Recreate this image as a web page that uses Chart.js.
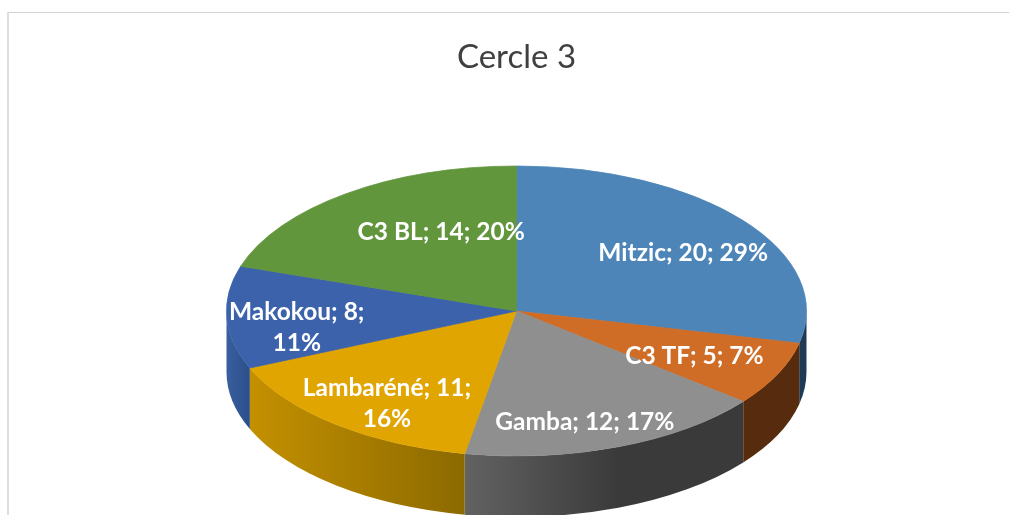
<!DOCTYPE html>
<html>
<head>
<meta charset="utf-8">
<title>Cercle 3</title>
<script src="https://cdn.jsdelivr.net/npm/chart.js@4"></script>
<style>
    html, body { margin: 0; padding: 0; background: #fff; overflow: hidden; }
    #wrap { position: relative; width: 1009px; height: 515px; overflow: hidden; }
    #frame {
        position: absolute; left: 7px; top: 12px; width: 1100px; height: 600px;
        border-left: 2px solid #dedede; border-top: 1px solid #d2d2d2;
    }
    #chart { position: absolute; left: 0; top: 0; }
</style>
</head>
<body>
<div id="wrap">
    <div id="frame"></div>
    <canvas id="chart" width="1009" height="515"></canvas>
</div>
<script>
// Data
const categories = ['Mitzic', 'C3 TF', 'Gamba', 'Lambaréné', 'Makokou', 'C3 BL'];
const values = [20, 5, 12, 11, 8, 14];

// Slice colours: top face, then the side wall (left and right end of its gradient)
const topColors = ['#4e85b9', '#cf6c26', '#8f8f8f', '#e0a500', '#3b62ab', '#62963c'];
const wallLeft = ['#1f3a55', '#562b0e', '#626262', '#c49000', '#3a5f9f', '#3b5a24'];
const wallRight = ['#1f3a55', '#562b0e', '#3a3a3a', '#8c6a00', '#2b4f8a', '#3b5a24'];
const wallStop = [1, 1, 0.55, 1, 1, 1];

// Tilt of the pie and thickness of the wall
const tilt = 0.5;
const depth = 61;

// Label placement: nudge from 70% of the radius, and where the line wraps
const labelNudge = [[8, 5], [-5, 1], [-3, 16], [-3, 13], [-17, 12], [44, 3]];
const labelWrapped = [false, false, false, true, true, false];

const total = values.reduce((a, b) => a + b, 0);

function labelLines(i) {
    const head = `${categories[i]}; ${values[i]};`;
    const pct = `${Math.round(values[i] / total * 100)}%`;
    return labelWrapped[i] ? [head, pct] : [`${head} ${pct}`];
}

/**
 * Squashes the pie into an ellipse and draws the wall under it
 */
const pie3d = {
    id: 'pie3d',
    beforeDatasetsDraw(chart) {
        const ctx = chart.ctx;
        const arcs = chart.getDatasetMeta(0).data;

        arcs.forEach((arc, i) => {
            const start = Math.max(arc.startAngle, 0);
            const end = Math.min(arc.endAngle, Math.PI);
            if (end <= start) return;

            const r = arc.outerRadius;
            const ry = r * tilt;
            const x0 = arc.x + r * Math.cos(end);
            const x1 = arc.x + r * Math.cos(start);
            const gradient = ctx.createLinearGradient(x0, 0, x1, 0);
            gradient.addColorStop(0, wallLeft[i]);
            gradient.addColorStop(wallStop[i], wallRight[i]);
            gradient.addColorStop(1, wallRight[i]);

            ctx.beginPath();
            ctx.ellipse(arc.x, arc.y, r, ry, 0, start, end);
            ctx.ellipse(arc.x, arc.y + depth, r, ry, 0, end, start, true);
            ctx.closePath();
            ctx.fillStyle = gradient;
            ctx.fill();
        });

        const first = arcs[0];
        ctx.save();
        ctx.translate(first.x, first.y);
        ctx.scale(1, tilt);
        ctx.translate(-first.x, -first.y);
    },
    afterDatasetsDraw(chart) {
        const ctx = chart.ctx;
        ctx.restore();

        ctx.font = 'bold 24.5px Lato';
        ctx.fillStyle = '#ffffff';
        ctx.textAlign = 'center';
        ctx.textBaseline = 'middle';
        chart.getDatasetMeta(0).data.forEach((arc, i) => {
            const mid = (arc.startAngle + arc.endAngle) / 2;
            const lx = arc.x + arc.outerRadius * 0.7 * Math.cos(mid) + labelNudge[i][0];
            const ly = arc.y + arc.outerRadius * tilt * 0.7 * Math.sin(mid) + labelNudge[i][1];
            const lines = labelLines(i);
            lines.forEach((line, n) => {
                ctx.fillText(line, lx, ly + (n - (lines.length - 1) / 2) * 31);
            });
        });
    }
};

new Chart(document.getElementById('chart'), {
    type: 'pie',
    data: {
        labels: categories,
        datasets: [{
            data: values,
            backgroundColor: topColors,
            borderColor: topColors,
            borderWidth: 1,
            radius: 290,
            clip: false
        }]
    },
    options: {
        responsive: false,
        animation: false,
        devicePixelRatio: 1,
        layout: { padding: { left: 24, right: 0, top: 0, bottom: 0 } },
        plugins: {
            legend: { display: false },
            tooltip: { enabled: false },
            title: {
                display: true,
                text: 'Cercle 3',
                color: '#404040',
                font: { family: 'Lato', size: 33, weight: 'normal', lineHeight: 1.2 },
                padding: { top: 38, bottom: 29.4 }
            }
        }
    },
    plugins: [pie3d]
});
</script>
</body>
</html>
